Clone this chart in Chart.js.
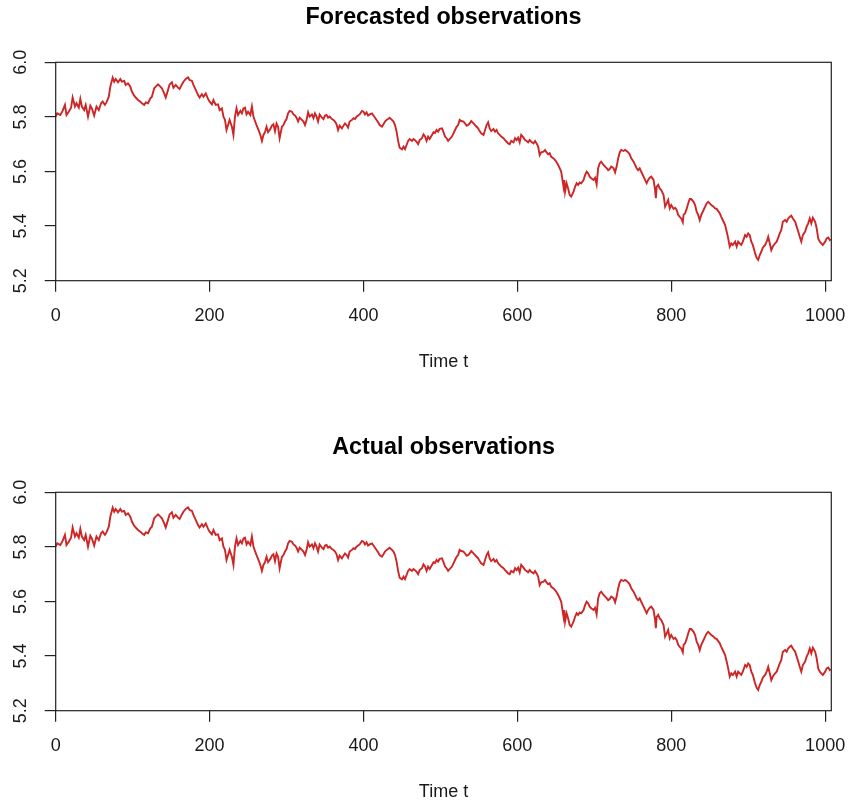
<!DOCTYPE html>
<html>
<head>
<meta charset="utf-8">
<script src="https://cdn.jsdelivr.net/npm/chart.js@4"></script>
<style>
  html, body { margin: 0; padding: 0; background: #fff; }
  body { width: 850px; height: 803px; position: relative; overflow: hidden; }
  canvas { position: absolute; left: 0; }
  #forecastChart { top: 0; }
  #actualChart { top: 430px; }
</style>
</head>
<body>
<canvas id="forecastChart" width="850" height="373"></canvas>
<canvas id="actualChart" width="850" height="373"></canvas>
<script>
// time index of each reading
const timeT = [
  0, 2, 6, 9, 12, 14, 17, 20, 22, 25, 27, 30, 32, 34, 37, 39, 42, 45, 47, 50,
  53, 56, 59, 61, 64, 66, 69, 71, 74, 76, 78, 81, 84, 86, 89, 91, 94, 97, 99, 102,
  104, 107, 110, 112, 115, 117, 120, 123, 125, 128, 130, 133, 136, 138, 141, 143, 146, 148, 151, 153,
  156, 159, 161, 164, 166, 169, 172, 174, 177, 179, 182, 185, 187, 190, 192, 195, 198, 200, 203, 205,
  208, 211, 213, 216, 218, 220, 222, 224, 226, 229, 231, 233, 235, 237, 240, 242, 244, 246, 248, 250,
  253, 255, 257, 259, 261, 263, 266, 268, 270, 272, 274, 276, 279, 281, 283, 285, 287, 289, 291, 294,
  296, 298, 300, 302, 304, 307, 309, 311, 313, 315, 317, 320, 322, 324, 326, 328, 330, 333, 335, 337,
  339, 341, 343, 346, 348, 350, 352, 354, 356, 359, 361, 363, 365, 367, 369, 372, 374, 376, 378, 380,
  382, 385, 387, 389, 391, 393, 395, 398, 400, 402, 404, 406, 408, 411, 413, 415, 417, 419, 421, 424,
  426, 428, 430, 432, 434, 437, 439, 441, 443, 445, 447, 450, 452, 454, 456, 458, 460, 463, 465, 467,
  469, 471, 473, 476, 478, 480, 482, 484, 486, 489, 491, 493, 495, 497, 499, 502, 504, 506, 508, 510,
  512, 515, 517, 519, 521, 523, 525, 527, 530, 532, 534, 536, 538, 540, 543, 545, 547, 549, 551, 553,
  556, 558, 560, 562, 564, 566, 569, 571, 573, 575, 577, 579, 582, 584, 586, 588, 590, 592, 595, 597,
  599, 601, 603, 605, 608, 610, 612, 614, 616, 618, 621, 623, 625, 627, 629, 631, 634, 636, 638, 640,
  642, 644, 647, 649, 651, 653, 655, 657, 660, 661, 662, 664, 666, 668, 670, 673, 675, 677, 679, 681,
  683, 686, 688, 690, 692, 694, 696, 699, 701, 703, 705, 707, 709, 712, 714, 716, 718, 720, 722, 725,
  727, 729, 731, 733, 735, 738, 740, 742, 744, 746, 748, 751, 753, 755, 757, 759, 761, 764, 766, 768,
  770, 772, 774, 777, 779, 780, 781, 783, 785, 787, 790, 792, 794, 796, 798, 800, 803, 805, 807, 809,
  811, 813, 815, 816, 818, 820, 822, 824, 826, 829, 831, 833, 835, 837, 839, 842, 844, 846, 848, 850,
  852, 855, 857, 859, 861, 863, 865, 868, 870, 872, 874, 876, 878, 880, 883, 885, 887, 889, 891, 893,
  896, 898, 900, 902, 904, 906, 909, 911, 913, 915, 917, 919, 922, 924, 926, 928, 930, 932, 935, 937,
  939, 941, 943, 945, 948, 950, 952, 954, 956, 958, 961, 963, 965, 967, 969, 971, 974, 976, 978, 980,
  982, 984, 987, 989, 991, 993, 995, 997, 1000, 1002, 1004, 1006, 1007
];

// forecasted observations, one per entry of timeT
const forecastObs = [
  5.801, 5.813, 5.807, 5.822, 5.844, 5.807, 5.819, 5.834, 5.871, 5.838, 5.850, 5.834, 5.866, 5.838, 5.825, 5.844, 5.801, 5.841, 5.831, 5.805,
  5.838, 5.825, 5.850, 5.856, 5.844, 5.853, 5.874, 5.911, 5.944, 5.929, 5.939, 5.927, 5.939, 5.929, 5.932, 5.917, 5.923, 5.911, 5.893, 5.878,
  5.871, 5.862, 5.856, 5.850, 5.844, 5.853, 5.850, 5.868, 5.874, 5.905, 5.911, 5.919, 5.911, 5.905, 5.886, 5.871, 5.899, 5.919, 5.927, 5.907,
  5.917, 5.907, 5.902, 5.919, 5.929, 5.939, 5.945, 5.935, 5.932, 5.917, 5.899, 5.880, 5.871, 5.883, 5.874, 5.886, 5.866, 5.856, 5.846, 5.862,
  5.844, 5.846, 5.825, 5.831, 5.801, 5.789, 5.752, 5.770, 5.789, 5.764, 5.734, 5.801, 5.831, 5.807, 5.822, 5.813, 5.831, 5.834, 5.809, 5.819,
  5.807, 5.838, 5.801, 5.785, 5.770, 5.756, 5.734, 5.712, 5.734, 5.744, 5.764, 5.744, 5.756, 5.768, 5.773, 5.748, 5.776, 5.764, 5.722, 5.764,
  5.770, 5.783, 5.792, 5.813, 5.822, 5.819, 5.809, 5.805, 5.797, 5.783, 5.797, 5.789, 5.783, 5.770, 5.789, 5.817, 5.801, 5.809, 5.795, 5.813,
  5.801, 5.783, 5.809, 5.797, 5.792, 5.805, 5.807, 5.797, 5.801, 5.792, 5.789, 5.783, 5.773, 5.752, 5.768, 5.758, 5.768, 5.776, 5.770, 5.761,
  5.783, 5.789, 5.795, 5.792, 5.801, 5.805, 5.809, 5.822, 5.819, 5.809, 5.817, 5.805, 5.809, 5.813, 5.805, 5.797, 5.789, 5.780, 5.770, 5.764,
  5.773, 5.783, 5.789, 5.792, 5.797, 5.789, 5.783, 5.770, 5.746, 5.712, 5.687, 5.681, 5.691, 5.682, 5.697, 5.712, 5.719, 5.712, 5.719, 5.715,
  5.709, 5.700, 5.715, 5.722, 5.736, 5.728, 5.712, 5.728, 5.719, 5.734, 5.744, 5.741, 5.752, 5.746, 5.756, 5.758, 5.744, 5.728, 5.722, 5.712,
  5.719, 5.728, 5.740, 5.752, 5.764, 5.770, 5.789, 5.785, 5.783, 5.776, 5.768, 5.770, 5.776, 5.785, 5.776, 5.770, 5.764, 5.758, 5.748, 5.740,
  5.734, 5.752, 5.770, 5.780, 5.758, 5.748, 5.756, 5.746, 5.752, 5.740, 5.734, 5.728, 5.722, 5.715, 5.709, 5.703, 5.700, 5.712, 5.707, 5.722,
  5.715, 5.724, 5.707, 5.734, 5.724, 5.715, 5.712, 5.707, 5.715, 5.709, 5.703, 5.712, 5.703, 5.691, 5.660, 5.670, 5.673, 5.679, 5.670, 5.663,
  5.667, 5.654, 5.648, 5.642, 5.634, 5.624, 5.612, 5.599, 5.544, 5.569, 5.526, 5.557, 5.538, 5.514, 5.508, 5.526, 5.544, 5.557, 5.551, 5.560,
  5.557, 5.569, 5.587, 5.599, 5.593, 5.581, 5.575, 5.569, 5.577, 5.553, 5.612, 5.630, 5.636, 5.624, 5.618, 5.612, 5.605, 5.609, 5.618, 5.612,
  5.597, 5.618, 5.648, 5.670, 5.679, 5.675, 5.679, 5.675, 5.670, 5.663, 5.648, 5.636, 5.624, 5.612, 5.605, 5.612, 5.599, 5.581, 5.569, 5.557,
  5.569, 5.577, 5.581, 5.569, 5.532, 5.502, 5.544, 5.551, 5.538, 5.532, 5.514, 5.471, 5.483, 5.496, 5.465, 5.477, 5.463, 5.467, 5.459, 5.441,
  5.434, 5.428, 5.414, 5.441, 5.447, 5.463, 5.483, 5.499, 5.499, 5.489, 5.477, 5.453, 5.441, 5.422, 5.441, 5.459, 5.471, 5.483, 5.489, 5.483,
  5.477, 5.471, 5.465, 5.463, 5.455, 5.447, 5.434, 5.416, 5.404, 5.380, 5.355, 5.325, 5.337, 5.331, 5.343, 5.325, 5.343, 5.337, 5.331, 5.343,
  5.367, 5.361, 5.373, 5.367, 5.343, 5.331, 5.300, 5.284, 5.276, 5.294, 5.306, 5.321, 5.331, 5.343, 5.361, 5.337, 5.312, 5.325, 5.337, 5.343,
  5.358, 5.373, 5.386, 5.416, 5.422, 5.416, 5.428, 5.434, 5.438, 5.428, 5.416, 5.398, 5.380, 5.361, 5.343, 5.367, 5.380, 5.398, 5.410, 5.428,
  5.410, 5.431, 5.416, 5.392, 5.355, 5.343, 5.337, 5.331, 5.343, 5.355, 5.358, 5.349, 5.353
];

// the actual series is drawn the same as the forecast in the picture
const actualObs = forecastObs.slice();

const xTicks = [0, 200, 400, 600, 800, 1000];
const yTicks = [5.2, 5.4, 5.6, 5.8, 6.0];

const FONT = "'Liberation Sans', Arial, sans-serif";
const LINE_RED = '#CD2626';
const INK = '#1a1a1a';

Chart.defaults.font.family = FONT;

// R draws a full box round the plot region
const plotBox = {
    id: 'plotBox',
    afterDraw(chart) {
        const { ctx, chartArea: a } = chart;
        ctx.save();
        ctx.strokeStyle = '#222';
        ctx.lineWidth = 1.2;
        ctx.strokeRect(a.left, a.top, a.right - a.left, a.bottom - a.top);
        ctx.restore();
    }
};

function makeChart(canvasId, titleText, values) {
    const points = timeT.map((t, i) => ({ x: t, y: values[i] }));

    return new Chart(document.getElementById(canvasId), {
        type: 'line',
        data: {
            datasets: [{
                data: points,
                borderColor: LINE_RED,
                borderWidth: 1.9,
                pointRadius: 0,
                tension: 0,
                fill: false
            }]
        },
        plugins: [plotBox],
        options: {
            responsive: false,
            animation: false,
            devicePixelRatio: 1,
            layout: { padding: { left: 0, right: 18.7, top: 0, bottom: 0 } },
            plugins: {
                legend: { display: false },
                tooltip: { enabled: false },
                title: {
                    display: true,
                    text: titleText,
                    fullSize: false,
                    color: '#000',
                    font: { size: 23.3, weight: 'bold', lineHeight: 1 },
                    padding: { top: 6.4, bottom: 32.6 }
                }
            },
            scales: {
                x: {
                    type: 'linear',
                    min: 0,
                    max: 1008,
                    afterBuildTicks: s => { s.ticks = xTicks.map(v => ({ value: v })); },
                    afterFit: s => { s.height = 92.3; s.paddingLeft = 0; s.paddingRight = 0; },
                    grid: { drawOnChartArea: false, tickLength: 11, color: '#222', lineWidth: 1.2 },
                    border: { display: false },
                    ticks: {
                        color: INK,
                        padding: 15.3,
                        maxRotation: 0,
                        font: { size: 18, lineHeight: 1 },
                        callback: v => String(v)
                    },
                    title: {
                        display: true,
                        text: 'Time t',
                        color: INK,
                        font: { size: 18, lineHeight: 1 },
                        padding: { top: 0, bottom: 2 }
                    }
                },
                y: {
                    min: 5.2,
                    max: 6.0,
                    afterBuildTicks: s => { s.ticks = yTicks.map(v => ({ value: v })); },
                    afterFit: s => { s.width = 55.7; s.paddingTop = 0; s.paddingBottom = 0; },
                    grid: { drawOnChartArea: false, tickLength: 11, color: '#222', lineWidth: 1.2 },
                    border: { display: false },
                    ticks: {
                        color: INK,
                        minRotation: 90,
                        maxRotation: 90,
                        crossAlign: 'center',
                        padding: 10.7,
                        font: { size: 18, lineHeight: 1 },
                        callback: v => Number(v).toFixed(1)
                    }
                }
            }
        }
    });
}

makeChart('forecastChart', 'Forecasted observations', forecastObs);
makeChart('actualChart', 'Actual observations', actualObs);
</script>
</body>
</html>
